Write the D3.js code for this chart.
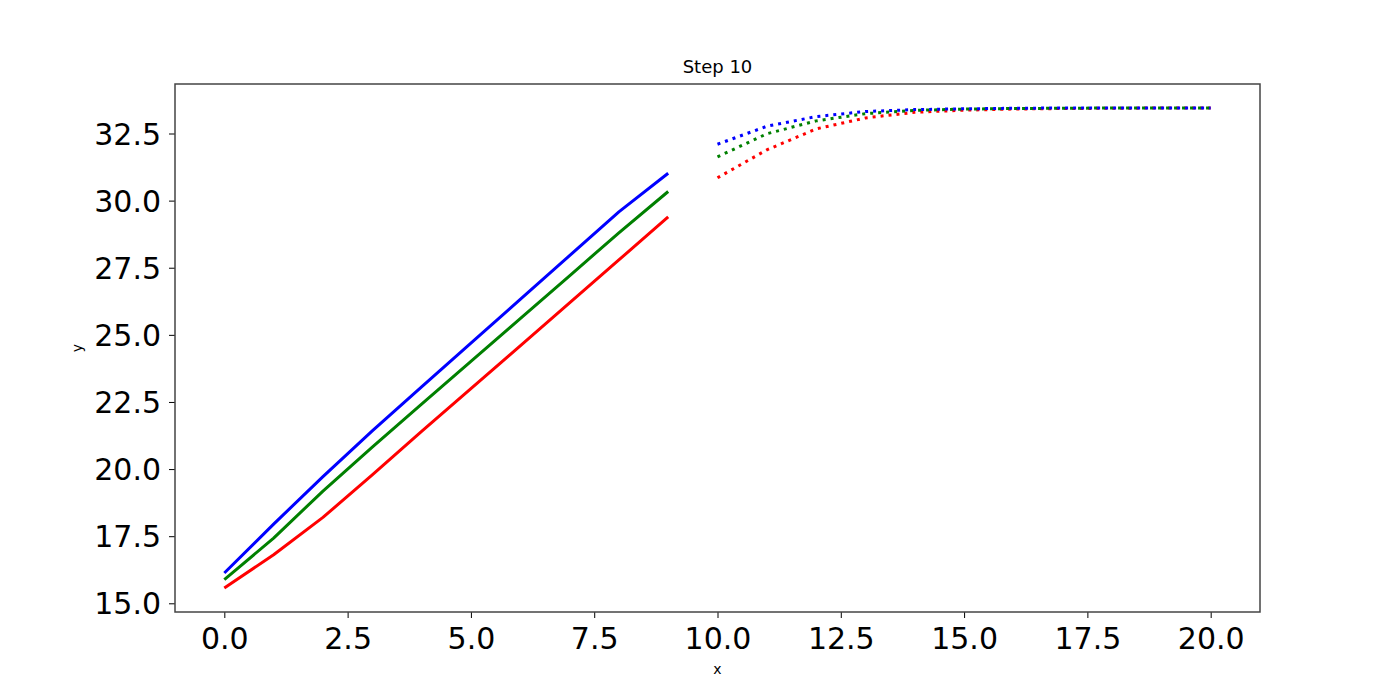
<!DOCTYPE html>
<html>
<head>
<meta charset="utf-8">
<script src="https://cdn.jsdelivr.net/npm/d3@7"></script>
<style>
  html, body { margin: 0; padding: 0; background: #fff; }
  svg { display: block; font-family: "DejaVu Sans", sans-serif; }
</style>
</head>
<body>
<svg id="chart" width="1400" height="700"></svg>
<script>
// ---- data ----
const xPast = [0, 1, 2, 3, 4, 5, 6, 7, 8, 9];
const xFuture = [10, 11, 12, 13, 14, 15, 16, 17, 18, 19, 20];

const redPast   = [15.57, 16.81, 18.20, 19.78, 21.40, 23.00, 24.59, 26.19, 27.79, 29.39];
const greenPast = [15.88, 17.43, 19.18, 20.82, 22.42, 24.01, 25.60, 27.20, 28.80, 30.34];
const bluePast  = [16.13, 17.95, 19.72, 21.42, 23.06, 24.69, 26.32, 27.95, 29.58, 31.02];

const redFuture   = [30.85, 31.89, 32.67, 33.08, 33.29, 33.37, 33.41, 33.43, 33.44, 33.45, 33.45];
const greenFuture = [31.63, 32.49, 32.97, 33.24, 33.36, 33.41, 33.43, 33.44, 33.45, 33.45, 33.45];
const blueFuture  = [32.10, 32.77, 33.13, 33.32, 33.39, 33.42, 33.44, 33.45, 33.45, 33.45, 33.45];

const xTicks = [0, 2.5, 5, 7.5, 10, 12.5, 15, 17.5, 20];
const yTicks = [15, 17.5, 20, 22.5, 25, 27.5, 30, 32.5];

const seriesNames = ["red", "green", "blue"];
const seriesColors = ["#ff0000", "#008000", "#0000ff"];
const titleText = "Step 10";
const xLabel = "x";
const yLabel = "y";

// ---- layout ----
const L = 175, R = 1260, T = 84, B = 612;
const svg = d3.select("#chart");

const allY = [].concat(redPast, greenPast, bluePast, redFuture, greenFuture, blueFuture);
const [yMin, yMax] = d3.extent(allY);
const yPad = (yMax - yMin) * 0.05;
const allX = xPast.concat(xFuture);
const [xMin, xMax] = d3.extent(allX);
const xPad = (xMax - xMin) * 0.05;

const x = d3.scaleLinear().domain([xMin - xPad, xMax + xPad]).range([L, R]);
const y = d3.scaleLinear().domain([yMin - yPad, yMax + yPad]).range([B, T]);

const line = d3.line().x(d => x(d[0])).y(d => y(d[1]));

const past = [redPast, greenPast, bluePast];
const future = [redFuture, greenFuture, blueFuture];

const plot = svg.append("g");
past.forEach((vals, i) => {
  plot.append("path")
    .datum(xPast.map((xv, j) => [xv, vals[j]]))
    .attr("d", line)
    .attr("fill", "none")
    .attr("stroke", seriesColors[i])
    .attr("stroke-width", 3)
    .attr("stroke-linecap", "butt")
    .attr("stroke-linejoin", "round");
});
future.forEach((vals, i) => {
  plot.append("path")
    .datum(xFuture.map((xv, j) => [xv, vals[j]]))
    .attr("d", line)
    .attr("fill", "none")
    .attr("stroke", seriesColors[i])
    .attr("stroke-width", 3)
    .attr("stroke-dasharray", "3,5")
    .attr("stroke-linecap", "butt");
});

// ---- axes ----
const fmt = d3.format(".1f");
const xAxis = d3.axisBottom(x).tickValues(xTicks).tickFormat(fmt).tickSize(6).tickPadding(6);
const yAxis = d3.axisLeft(y).tickValues(yTicks).tickFormat(fmt).tickSize(6).tickPadding(8);

const gx = svg.append("g").attr("transform", `translate(0,${B})`).call(xAxis);
const gy = svg.append("g").attr("transform", `translate(${L},0)`).call(yAxis);

[gx, gy].forEach(g => {
  g.select(".domain").remove();
  g.selectAll(".tick line").attr("stroke", "#000").attr("stroke-width", 1);
  g.selectAll(".tick text")
    .attr("fill", "#000")
    .style("font-family", "'DejaVu Sans', sans-serif")
    .style("font-size", "30px");
});
gx.selectAll(".tick text").attr("dy", null).attr("y", 37).attr("dominant-baseline", "alphabetic");
gy.selectAll(".tick text").attr("dy", null).attr("dominant-baseline", "central");

// frame
svg.append("rect")
  .attr("x", L).attr("y", T)
  .attr("width", R - L).attr("height", B - T)
  .attr("fill", "none")
  .attr("stroke", "#444")
  .attr("stroke-width", 1.5);

// title & labels
svg.append("text")
  .attr("x", (L + R) / 2).attr("y", 73)
  .attr("text-anchor", "middle")
  .style("font-size", "18px")
  .attr("fill", "#000")
  .text(titleText);

svg.append("text")
  .attr("x", (L + R) / 2).attr("y", 674)
  .attr("text-anchor", "middle")
  .style("font-size", "14px")
  .attr("fill", "#000")
  .text(xLabel);

svg.append("text")
  .attr("transform", `translate(82,${(T + B) / 2}) rotate(-90)`)
  .attr("text-anchor", "middle")
  .style("font-size", "14px")
  .attr("fill", "#000")
  .text(yLabel);
</script>
</body>
</html>
